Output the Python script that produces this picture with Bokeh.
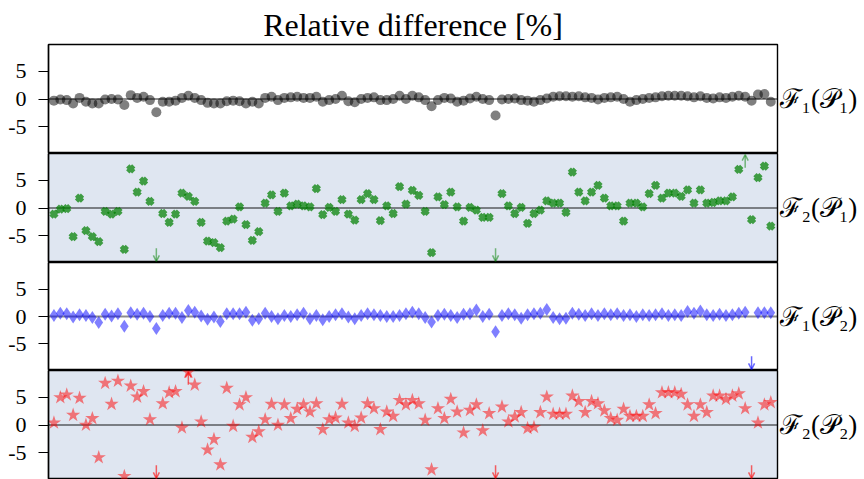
from bokeh.plotting import figure
from bokeh.layouts import column
from bokeh.models import Range1d, Span, Arrow, OpenHead, ColumnDataSource, FixedTicker, LinearAxis
from bokeh.embed import file_html
from bokeh.resources import INLINE

# ---------------- data ----------------
days = list(range(113))

f1_p1 = [-0.3, -0.1, -0.2, -0.8, 0.2, -0.5, -0.8, -0.8, -0.1, 0.0, -0.1, -1.1, 0.7, 0.2, 0.4, -0.2, -2.4,
         -0.5, -0.5, -0.3, 0.2, 0.6, 0.2, -0.2, -0.7, -0.8, -0.8, -0.4, -0.3, -0.4, -0.8, -0.5, -0.8,
         0.2, 0.4, -0.2, 0.2, 0.3, 0.4, 0.2, 0.2, 0.4, -0.5, -0.2, 0.0, 0.6, -0.4, -0.6, 0.0, 0.2, 0.3,
         -0.2, -0.2, 0.0, 0.6, 0.0, 0.6, 0.3, -0.2,
         -1.3,
         -0.2, 0.2, 0.1, -0.5, -0.3, 0.1, 0.4, 0.0, -0.2,
         -3.0,
         -0.1, 0.0, 0.1, -0.2, -0.3, -0.5, -0.2, 0.1, 0.4, 0.5, 0.5, 0.4, 0.5, 0.3, 0.2, -0.1, 0.2, 0.3,
         0.4, 0.0, -0.5, -0.2, 0.0, 0.2, 0.3, 0.5, 0.6, 0.6, 0.6, 0.5, 0.3, 0.5, 0.2, 0.1, 0.3, 0.2, 0.4,
         0.6, 0.4,
         -0.3, 0.8, 0.9, -0.5]

f2_p1 = [-1.1, -0.2, -0.1, -5.2, 1.8, -4.1, -5.2, -6.1, -0.6, -1.1, -0.6, -7.5, 7.1, 2.9, 4.9, 1.2,
         -14.0,
         -1.0, -2.6, -1.1, 2.7, 2.1, 1.2, -2.6, -6.0, -6.3, -7.2, -2.4, -2.0, 0.2, -3.0, -5.9, -4.3, 0.9,
         2.4, -0.6, 2.7, 0.4, 0.7, 0.4, 0.2, 3.5, -1.2, 0.1, -0.6, 1.5, -1.1, -2.2, 1.5, 2.6, 1.5, -2.3,
         0.4, -1.0, 3.9, 0.7, 3.2, 2.3, -0.6,
         -8.1,
         2.0, 0.6, 2.9, 0.2, -2.4, 0.1, -0.4, -1.7, -1.7,
         -13.0,
         2.6, 0.4, -1.0, 0.1, -2.8, -1.0, -0.4, 1.3, 0.9, 0.9, -0.8, 6.5, 2.9, 1.3, 2.9, 4.1, 1.8, 0.4,
         0.4, -2.4, 0.9, 0.9, 0.2, 2.6, 4.1, 1.8, 2.7, 2.7, 2.1, 3.3, 0.9, 3.3, 0.9, 1.0, 1.3, 1.3, 2.0,
         7.0,
         12.0,
         -2.1, 5.5, 7.6, -3.3]

f1_p2 = [0.2, 0.6, 0.5, -0.1, 0.3, 0.2, -0.2, -1.1, 0.4, 0.1, 0.5, -1.8, 0.7, 0.4, 0.6, 0.0, -2.2,
         0.2, 0.6, 0.6, -0.2, 1.1, 0.8, 0.1, -0.5, -0.1, -0.9, 0.5,
         0.5, 0.5, 0.8, -0.7, -0.4, 0.6, 0.0, -0.4, 0.2, 0.0, 0.3, 0.6, -0.4, 0.2, -0.6, 0.0, 0.3, 0.5,
         -0.1, -0.4, 0.2, 0.5, 0.3, 0.2, 0.0, 0.0, 0.2, 0.5, 0.8, 0.5, -0.2,
         -1.0,
         0.2, 0.4, 0.2, -0.2, 0.4, 0.5, 1.2, 0.0, 0.4,
         -2.8,
         0.2, 0.5, 0.3, -0.3, 0.3, 0.5, 0.6, 1.3, -0.2, -0.4, -0.3, 0.6, 0.4, 0.2, 0.5, 0.2, 0.5, 0.3,
         0.5, 0.2, 0.3, 0.0, 0.3, 0.2, 0.3, 0.5, 0.2, 0.3, 0.2, 0.9, 0.6, 1.0, 0.3, 0.2, 0.4, 0.2, 0.3,
         0.6, 0.8,
         -13.0,
         0.7, 0.7, 0.7]

f2_p2 = [0.4, 5.0, 5.5, 1.8, 4.9, 0.0, 1.2, -5.9, 7.6, 3.8, 8.0, -9.3, 7.1, 5.1, 6.1, 1.0,
         -15.0,
         3.9, 5.9, 6.1, -0.5,
         9.6,
         7.3, 0.6, -4.5, -2.6, -7.2, 6.7, -0.2, 3.7, 5.0, -2.2, -1.2, 1.0, 3.8, 0.0, 3.7, 1.2, 2.9, 3.7,
         2.4, 3.9, -0.8, 1.0, 1.3, 3.8, 0.4, -0.2, 1.3, 3.9, 3.0, -0.8, 2.4, 1.6, 4.5, 3.7, 4.5, 3.9, 0.9,
         -8.1,
         3.0, 1.2, 4.7, 2.4, -1.4, 2.7, 3.7, -1.0, 2.1,
         -14.0,
         3.3, 0.6, 1.5, 2.3, -0.6, -0.4, 2.3, 5.1, 2.0, 2.0, 2.0, 5.3, 4.3, 2.3, 4.3, 3.9, 2.6, 1.2, 0.9,
         2.9, 1.6, 1.6, 1.6, 3.7, 2.1, 5.9, 5.9, 5.9, 5.6, 3.7, 1.6, 3.7, 2.3, 5.3, 5.3, 4.7, 5.3, 5.7,
         3.0,
         -14.0,
         0.4, 3.7, 4.1]

panel_labels = ["ℱ₁(𝒫₁)", "ℱ₂(𝒫₁)", "ℱ₁(𝒫₂)", "ℱ₂(𝒫₂)"]
title_text = "Relative difference [%]"
y_ticks = [-5, 0, 5]
y_tick_labels = {-5: "-5", 0: "0", 5: "5"}

# ---------------- layout / style ----------------
W = 864
FRAME_L, FRAME_R = 48, 777
TOP = 44
frame_heights = [109, 109, 108, 109]
XR = (-0.85, 113.05)
YR = (-9.9, 9.9)
ARROW_LIM = 9.5
SERIF = "Liberation Serif"
BLUE_BG = "#dfe6f1"

specs = [
    (f1_p1, "circle", dict(size=10, fill_color="black", fill_alpha=0.5, line_color=None), "white", "black", 0.5),
    (f2_p1, "x", dict(size=8.5, line_color="green", line_alpha=0.72, line_width=4.6), BLUE_BG, "green", 0.5),
    (f1_p2, "diamond", dict(size=13, fill_color="blue", fill_alpha=0.5, line_color=None), "white", "blue", 0.6),
    (f2_p2, "star", dict(size=15, fill_color="red", fill_alpha=0.5, line_color=None), BLUE_BG, "red", 0.6),
]

figs = []
for k, (vals, marker, style, bg, acol, aalpha) in enumerate(specs):
    h = frame_heights[k] + (TOP if k == 0 else 0)
    p = figure(width=W, height=h, output_backend="svg", toolbar_location=None,
               x_range=Range1d(*XR), y_range=Range1d(*YR), x_axis_location=None,
               min_border_left=FRAME_L, min_border_right=W - FRAME_R,
               min_border_top=TOP if k == 0 else 0, min_border_bottom=0)
    p.background_fill_color = bg
    p.border_fill_color = "white"
    p.outline_line_color = "black"
    p.outline_line_width = 1.4
    p.xgrid.visible = False
    p.ygrid.visible = False

    ax = p.yaxis[0]
    ax.ticker = FixedTicker(ticks=y_ticks)
    ax.major_label_overrides = y_tick_labels
    ax.major_label_text_font = SERIF
    ax.major_label_text_font_size = "22px"
    ax.major_label_text_color = "black"
    ax.major_tick_out = 10
    ax.major_tick_in = 0
    ax.major_tick_line_color = "black"
    ax.major_tick_line_width = 1.2
    ax.minor_tick_line_color = None
    ax.axis_line_color = "black"
    ax.axis_line_width = 1.4
    ax.major_label_standoff = 12

    # panel name on the right, as a single tick label at y = 0
    rax = LinearAxis(ticker=FixedTicker(ticks=[0]), major_label_overrides={0: panel_labels[k]},
                     major_tick_out=0, major_tick_in=0, minor_tick_out=0, minor_tick_in=0,
                     axis_line_color=None, major_tick_line_color=None, minor_tick_line_color=None,
                     major_label_standoff=2, major_label_text_font=SERIF,
                     major_label_text_font_size="27px", major_label_text_color="black")
    p.add_layout(rax, "right")

    p.add_layout(Span(location=0, dimension="width", line_color="black", line_alpha=0.45,
                      line_width=2.2, level="underlay"))

    p.scatter(days, vals, marker=marker, **style)

    ax_x, ys, ye = [], [], []
    for i, v in zip(days, vals):
        if abs(v) > ARROW_LIM:
            s = 1 if v > 0 else -1
            ax_x.append(i)
            ys.append(s * 7.3)
            ye.append(s * 9.7)
    if ax_x:
        src = ColumnDataSource(dict(x=ax_x, ys=ys, ye=ye))
        p.add_layout(Arrow(end=OpenHead(size=6, line_color=acol, line_alpha=aalpha, line_width=1.5),
                           x_start="x", y_start="ys", x_end="x", y_end="ye", source=src,
                           line_color=acol, line_alpha=aalpha, line_width=1.5))

    if k == 0:
        p.title.text = title_text
        p.title.align = "center"
        p.title.text_font = SERIF
        p.title.text_font_style = "normal"
        p.title.text_font_size = "32px"
        p.title.text_color = "black"
        p.title.standoff = 3
    figs.append(p)

layout = column(*figs, spacing=0)
open("out.html", "w").write(file_html(layout, INLINE))
